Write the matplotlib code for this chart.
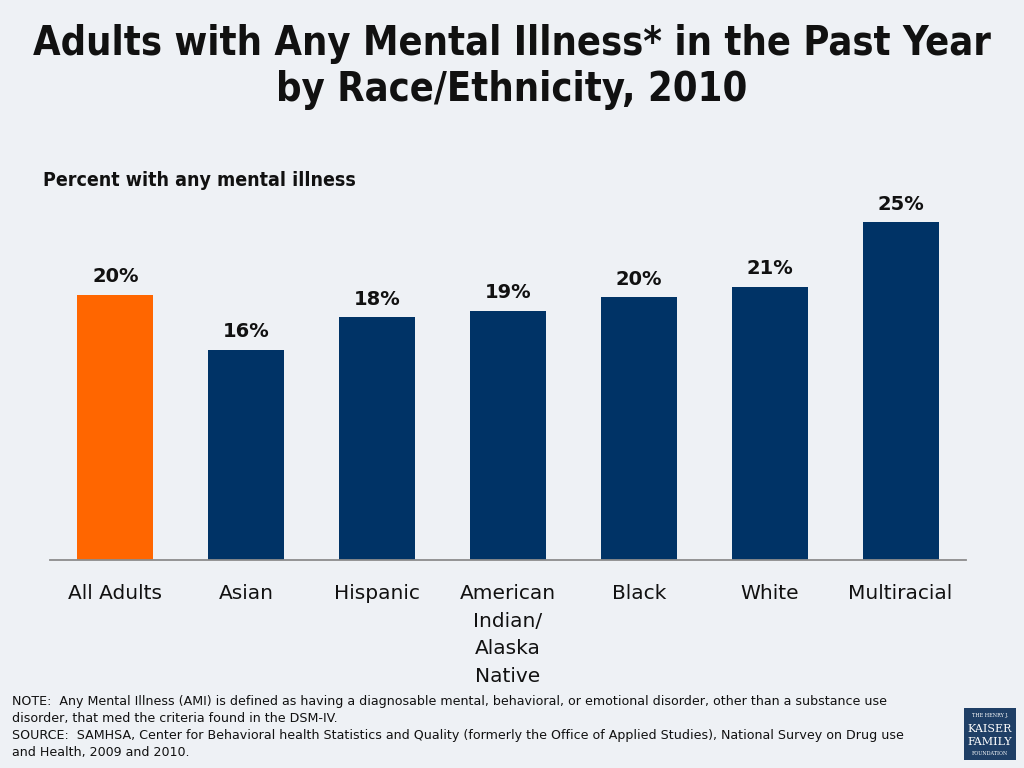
import matplotlib
matplotlib.use("Agg")
import matplotlib.pyplot as plt
from matplotlib.patches import Rectangle

categories = ["All Adults", "Asian", "Hispanic", "American\nIndian/\nAlaska\nNative",
              "Black", "White", "Multiracial"]
values = [19.8, 15.7, 18.1, 18.6, 19.6, 20.4, 25.2]
labels = ["20%", "16%", "18%", "19%", "20%", "21%", "25%"]
colors = ["#FF6600"] + ["#003366"] * 6

title = "Adults with Any Mental Illness* in the Past Year\nby Race/Ethnicity, 2010"
ylabel = "Percent with any mental illness"
notes = ("NOTE:  Any Mental Illness (AMI) is defined as having a diagnosable mental, behavioral, or emotional disorder, other than a substance use\n"
         "disorder, that med the criteria found in the DSM-IV.\n"
         "SOURCE:  SAMHSA, Center for Behavioral health Statistics and Quality (formerly the Office of Applied Studies), National Survey on Drug use\n"
         "and Health, 2009 and 2010.")

BG = "#EEF1F5"
fig = plt.figure(figsize=(10.24, 7.68), dpi=100, facecolor=BG)
ax = fig.add_axes([50/1024, 1-560/768, 916/1024, 380/768])
ax.set_facecolor(BG)
x = list(range(len(categories)))
bars = ax.bar(x, values, width=0.58, color=colors)
ax.set_xlim(-0.5, len(categories)-0.5)
ax.set_ylim(0, 380/13.4)
for b, lab in zip(bars, labels):
    ax.annotate(lab, (b.get_x()+b.get_width()/2, b.get_height()), xytext=(0, 6),
                textcoords="offset points", ha="center", va="bottom",
                fontsize=14, fontweight="bold", color="#111111")
for s in ["top", "left", "right"]:
    ax.spines[s].set_visible(False)
ax.spines["bottom"].set_color("#8C8C8C")
ax.spines["bottom"].set_linewidth(1.3)
ax.set_yticks([])
ax.set_xticks(x)
ax.set_xticklabels(categories, fontsize=14.5, linespacing=1.57, color="#111111")
ax.tick_params(axis="x", length=0, pad=17.5)

fig.text(0.5, 1-67/768, title, ha="center", va="center", fontsize=28.5,
         fontweight="bold", fontstretch="condensed", linespacing=1.22, color="#111111")
fig.text(43/1024, 1-181/768, ylabel, ha="left", va="center", fontsize=14,
         fontweight="bold", fontstretch="condensed", color="#111111")
fig.text(12/1024, 1-727/768, notes, ha="left", va="center", fontsize=9.05,
         linespacing=1.4, color="#111111")

lax = fig.add_axes([964/1024, 1-760/768, 52/1024, 52/768])
lax.set_axis_off()
lax.add_patch(Rectangle((0, 0), 1, 1, color="#1F3F66", transform=lax.transAxes))
lax.text(0.5, 0.86, "THE HENRY J.", color="white", fontsize=3.5, family="DejaVu Serif",
         ha="center", va="center", transform=lax.transAxes)
lax.text(0.5, 0.6, "KAISER", color="white", fontsize=8, family="DejaVu Serif",
         ha="center", va="center", transform=lax.transAxes)
lax.text(0.5, 0.35, "FAMILY", color="white", fontsize=8, family="DejaVu Serif",
         ha="center", va="center", transform=lax.transAxes)
lax.text(0.5, 0.12, "FOUNDATION", color="white", fontsize=3.5, family="DejaVu Serif",
         ha="center", va="center", transform=lax.transAxes)

fig.savefig("out.png", dpi=100, facecolor=BG)
